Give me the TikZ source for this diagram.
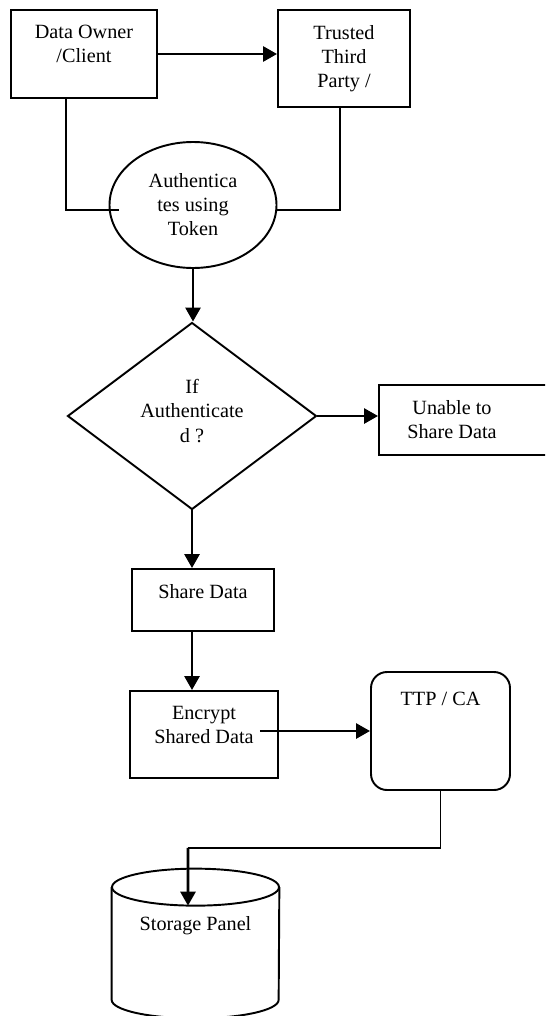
\documentclass[tikz,border=0pt]{standalone}
\usepackage{fontspec}
\setmainfont{Liberation Serif}
\usetikzlibrary{arrows.meta,positioning,shapes.geometric}
\tikzset{
  procbox/.style={draw,line width=1.1pt,inner sep=0pt},
  textlab/.style={anchor=north,align=center,inner sep=0pt,yshift=-0.32cm},
  toptext/.style={label={[textlab]north:{#1}}},
  flowArrow/.style={-{Triangle[length=2.8mm,width=3mm]},line width=1.6pt},
  flowLink/.style={line width=1.1pt}
}

\begin{document}
\begin{tikzpicture}[font=\fontsize{11.5}{13.7}\selectfont]
  \useasboundingbox (0,0) rectangle (10.9,-20.32);
  \clip (0,0) rectangle (10.9,-20.32);

  % top row and the token check
  \node[procbox,minimum width=2.92cm,minimum height=1.76cm,
        toptext={Data Owner\\/Client}] (owner) at (1.68,-1.08) {};
  \node[procbox,minimum width=2.64cm,minimum height=1.94cm,
        toptext={Trusted\\Third\\Party /}] (trusted) at (6.88,-1.17) {};
  \node[procbox,ellipse,minimum width=3.34cm,minimum height=2.52cm,align=center]
    (auth) at (3.86,-4.10) {Authentica\\tes using\\Token};

  % decision
  \node[procbox,diamond,minimum width=4.98cm,minimum height=3.74cm,
        label={[align=center,inner sep=0pt,yshift=0.1cm]center:{If\\Authenticate\\d ?}}]
    (check) at (3.84,-8.32) {};
  \node[procbox,minimum width=3.82cm,minimum height=1.40cm,
        label={[align=center,inner sep=0pt,xshift=-0.45cm]center:{Unable to\\Share Data}}]
    (unable) at (9.49,-8.40) {};

  % sharing path
  \node[procbox,minimum width=2.84cm,minimum height=1.24cm,
        toptext={Share Data}] (share) at (4.06,-12.00) {};
  \node[procbox,minimum width=2.96cm,minimum height=1.74cm,
        toptext={Encrypt\\Shared Data}] (encrypt) at (4.08,-14.69) {};
  \node[procbox,rounded corners=0.32cm,minimum width=2.78cm,minimum height=2.36cm,
        label={[textlab,yshift=-0.1cm]north:{TTP / CA}}] (tca) at (8.81,-14.62) {};

  % storage drum, outline drawn from the node's corners
  \node[inner sep=0pt,minimum width=3.34cm,minimum height=2.98cm,
        label={[textlab,yshift=-0.62cm]north:{Storage Panel}}] (store) at (3.91,-18.87) {};
  \draw[flowLink] ([yshift=-0.37cm]store.north) ellipse (1.67cm and 0.37cm);
  \draw[flowLink] ([yshift=-0.37cm]store.north west) -- ([yshift=0.37cm]store.south west)
    arc (180:360:1.67cm and 0.37cm) -- ([yshift=-0.37cm]store.north east);

  \draw[flowArrow] (owner.east) -- (owner.east -| trusted.west);
  \draw[flowLink] ([xshift=-0.36cm]owner.south) |- ([xshift=0.2cm,yshift=-0.1cm]auth.west);
  \draw[flowLink] ([xshift=-0.08cm]trusted.south) |- ([yshift=-0.1cm]auth.east);
  \draw[flowArrow] (auth.south) -- (auth.south |- check.north);
  \draw[flowArrow] (check.east) -- (check.east -| unable.west);
  \draw[flowArrow] (check.south) -- (check.south |- share.north);
  \draw[flowArrow] (check.south |- share.south) -- (check.south |- encrypt.north);
  \draw[flowArrow] (tca.west -| encrypt.east) ++(-0.38,0) -- (tca.west);
  \draw[flowLink] (tca.south) |- ++(-5.05,-1.14) coordinate (drop);
  \draw[flowArrow] (drop) -- ([xshift=-0.15cm,yshift=-0.74cm]store.north);
\end{tikzpicture}
\end{document}
